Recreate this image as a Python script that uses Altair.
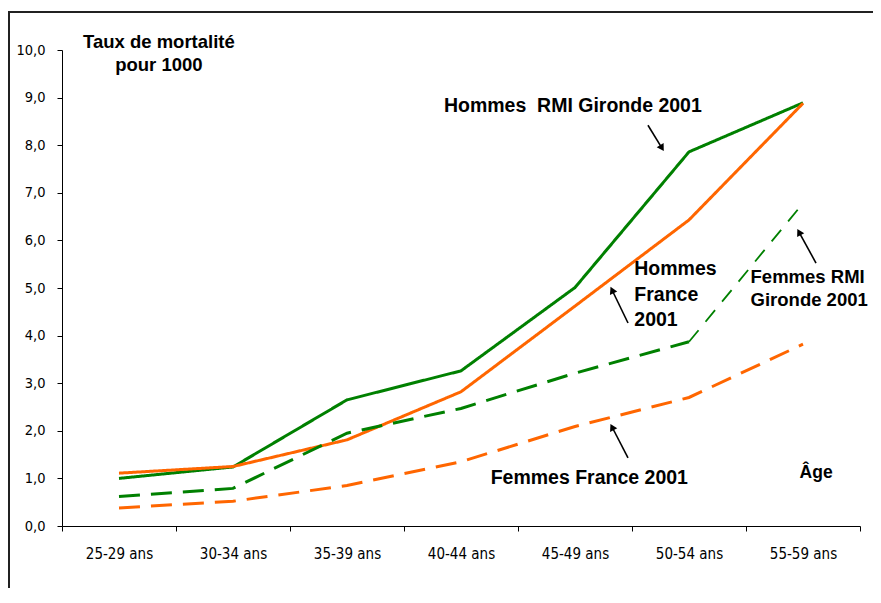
import altair as alt
import pandas as pd
import numpy as np

# ---- data ----
ages = ["25-29 ans", "30-34 ans", "35-39 ans", "40-44 ans", "45-49 ans", "50-54 ans", "55-59 ans"]
hommes_rmi = [1.00, 1.24, 2.65, 3.26, 5.01, 7.86, 8.89]
hommes_fr = [1.11, 1.25, 1.81, 2.82, 4.62, 6.43, 8.88]
femmes_rmi = [0.62, 0.79, 1.95, 2.47, 3.21, 3.87, 6.78]
femmes_fr = [0.38, 0.52, 0.85, 1.35, 2.09, 2.70, 3.82]
series = ["Hommes RMI Gironde 2001", "Hommes France 2001", "Femmes RMI Gironde 2001", "Femmes France 2001"]
colors = ["#008000", "#ff6600", "#008000", "#ff6600"]
y_ticks = [0, 1, 2, 3, 4, 5, 6, 7, 8, 9, 10]

# annotation texts (positions in band units along x, value units along y)
ann_text = ["Hommes\u00a0 RMI Gironde 2001", "Hommes", "France", "2001",
            "Femmes RMI", "Gironde 2001", "Femmes France 2001", "Âge"]
ann_x = [3.35, 5.02, 5.02, 5.02, 6.04, 6.04, 3.76, 6.47]
ann_y = [8.82, 5.40, 4.85, 4.33, 5.23, 4.75, 1.01, 1.11]
ann_size = [19.5, 19.5, 19.5, 19.5, 18.5, 18.5, 19.5, 17.5]
ytitle_text = ["Taux de mortalité", "pour 1000"]
ytitle_x = [0.85, 0.85]
ytitle_y = [10.17, 9.69]

# arrows (start -> tip)
arr_x1 = [5.14, 4.965, 6.614, 4.965]
arr_y1 = [8.42, 4.265, 5.525, 1.429]
arr_x2 = [5.263, 4.825, 6.465, 4.825]
arr_y2 = [7.94, 4.958, 6.176, 2.080]

W, H = 798, 476
PX_X, PX_Y = W / 7, H / 10

FONT = "Liberation Sans"
NARROW = "DejaVu Sans Condensed, Liberation Sans"

# ---- tables ----
rows = []
for name, vals in zip(series, [hommes_rmi, hommes_fr, femmes_rmi, femmes_fr]):
    n = len(vals) - 1 if name == "Femmes RMI Gironde 2001" else len(vals)
    for a, v in list(zip(ages, vals))[:n]:
        rows.append({"age": a, "val": v, "serie": name})
main_df = pd.DataFrame(rows)
thin_df = pd.DataFrame({"age": ages[-2:], "val": femmes_rmi[-2:]})

ann_df = pd.DataFrame({"ax": ann_x, "val": ann_y, "t": ann_text, "fs": ann_size})
yt_df = pd.DataFrame({"ax": ytitle_x, "val": ytitle_y, "t": ytitle_text})
arr_df = pd.DataFrame({"ax": arr_x1, "val": arr_y1, "ax2": arr_x2, "val2": arr_y2})
dx = (np.array(arr_x2) - np.array(arr_x1)) * PX_X
dy = -(np.array(arr_y2) - np.array(arr_y1)) * PX_Y
head_df = pd.DataFrame({"ax": arr_x2, "val": arr_y2,
                        "ang": (np.degrees(np.arctan2(dx, -dy)) + 360) % 360})

# ---- encodings ----
Y = alt.Y("val:Q",
          scale=alt.Scale(domain=[0, 10], nice=False, zero=True),
          axis=alt.Axis(values=y_ticks, title=None, grid=False,
                        labelExpr="replace(format(datum.value, '.1f'), '.', ',')",
                        labelFont=NARROW, labelFontSize=14.5, labelColor="#000",
                        labelPadding=12, tickSize=5, tickColor="#000",
                        domainColor="#000", domainWidth=1, tickWidth=1))

X_band = alt.X("age:N", sort=ages,
               scale=alt.Scale(type="band", domain=ages, paddingInner=0, paddingOuter=0),
               axis=alt.Axis(title=None, labelAngle=0, tickBand="extent",
                             labelFont=NARROW, labelFontSize=15, labelColor="#000",
                             labelPadding=15, tickSize=5, tickColor="#000",
                             domainColor="#000", domainWidth=1, tickWidth=1))
X_band_noaxis = alt.X("age:N", sort=ages,
                      scale=alt.Scale(type="band", domain=ages, paddingInner=0, paddingOuter=0),
                      axis=None)


def XA(field="ax"):
    return alt.X(f"{field}:Q", scale=alt.Scale(domain=[0, 7], nice=False, zero=False), axis=None)


lines = alt.Chart(main_df).mark_line(strokeWidth=3, strokeCap="butt").encode(
    x=X_band, y=Y,
    color=alt.Color("serie:N", scale=alt.Scale(domain=series, range=colors), legend=None),
    strokeDash=alt.StrokeDash("serie:N", scale=alt.Scale(domain=series,
                              range=[[1, 0], [1, 0], [21, 11], [21, 11]]), legend=None),
    detail="serie:N",
)

thin = alt.Chart(thin_df).mark_line(strokeWidth=1.8, color="#008000",
                                    strokeDash=[15, 11]).encode(x=X_band_noaxis, y=Y)

texts = alt.Chart(ann_df).mark_text(font=FONT, fontWeight="bold", align="left",
                                    baseline="middle", color="#000").encode(
    x=XA(), y=Y, text="t:N", size=alt.Size("fs:Q", scale=None))

ytitle = alt.Chart(yt_df).mark_text(font=FONT, fontWeight="bold", align="center",
                                    baseline="middle", fontSize=18.5, color="#000").encode(
    x=XA(), y=Y, text="t:N")

arrows = alt.Chart(arr_df).mark_rule(color="#000", strokeWidth=1.6).encode(
    x=XA(), x2="ax2:Q", y=Y, y2="val2:Q")
heads = alt.Chart(head_df).mark_point(shape="triangle-up", filled=True, size=65,
                                      color="#000", opacity=1).encode(
    x=XA(), y=Y, angle=alt.Angle("ang:Q", scale=None))

frame_left = alt.Chart(main_df).mark_rule(color="#222", strokeWidth=1.5).encode(
    x=alt.value(-53.2), y=alt.value(-38), y2=alt.value(540))
frame_top = alt.Chart(main_df).mark_rule(color="#222", strokeWidth=1.5).encode(
    x=alt.value(-54), x2=alt.value(830), y=alt.value(-38))

chart = alt.layer(lines, thin, texts, ytitle, arrows, heads, frame_left, frame_top).resolve_scale(
    x="independent"
).properties(
    width=W, height=H,
    autosize=alt.AutoSizeParams(type="none"),
    padding={"left": 54, "top": 42, "right": 13, "bottom": 62},
    background="white",
).configure_view(stroke="transparent")

chart.save("out.html", embed_options={"renderer": "svg", "actions": False})
